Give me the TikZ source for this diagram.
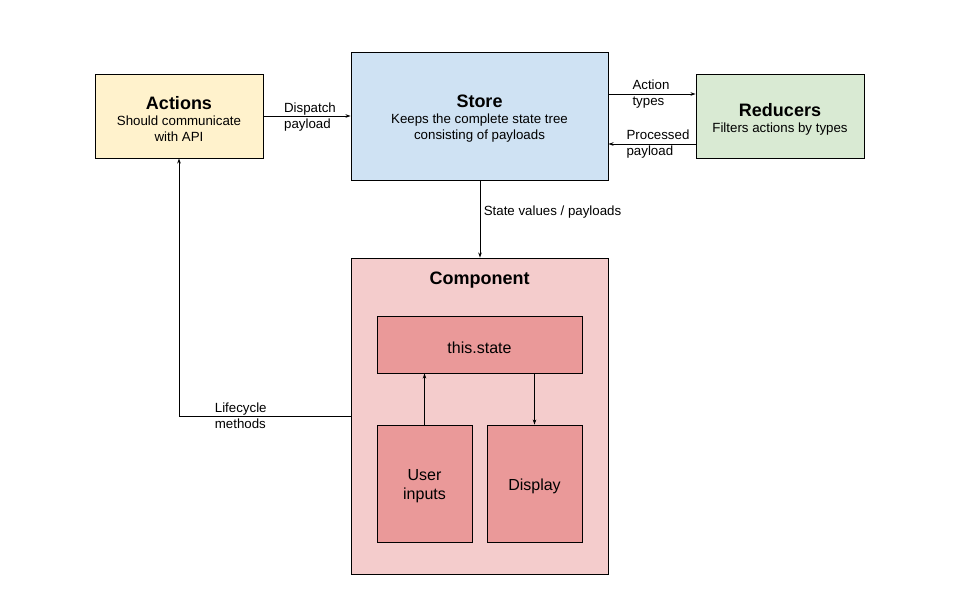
\documentclass[tikz,border=0pt]{standalone}
\usepackage{fontspec}
\setmainfont{Liberation Sans}
\usetikzlibrary{arrows.meta,positioning}

\definecolor{actfill}{HTML}{FFF2CC}
\definecolor{storefill}{HTML}{CFE2F3}
\definecolor{redfill}{HTML}{D9EAD3}
\definecolor{compfill}{HTML}{F4CCCC}
\definecolor{partfill}{HTML}{EA9999}

\begin{document}
\begin{tikzpicture}[x=1pt,y=-1pt,>={Stealth[length=5pt,width=3.5pt]},
    box/.style={draw,line width=0.9pt,inner sep=0pt},
    boxtext/.style={label={[align=center,yshift=-3pt,font=\fontsize{13.3}{16}\selectfont]center:{#1}}},
    parttext/.style={label={[align=center,yshift=-3pt,font=\fontsize{16}{19}\selectfont]center:{#1}}},
    flow/.style={->,line width=0.9pt},
    lbl/.style={align=left,font=\fontsize{13.3}{16}\selectfont}]
    \useasboundingbox (0,0) rectangle (960,600);
    \newcommand{\ttl}[1]{{\fontsize{18}{22}\selectfont\bfseries #1}}

    \node[box,fill=actfill,minimum width=168pt,minimum height=84pt,
        boxtext={\ttl{Actions}\\Should communicate\\with API}] (Actions) at (179,116) {};
    \node[box,fill=storefill,minimum width=257pt,minimum height=128pt,
        boxtext={\ttl{Store}\\Keeps the complete state tree\\consisting of payloads}] (Store) at (479.5,116) {};
    \node[box,fill=redfill,minimum width=168pt,minimum height=84pt,
        boxtext={\ttl{Reducers}\\Filters actions by types}] (Reducers) at (780,116) {};
    \node[box,fill=compfill,minimum width=257pt,minimum height=316pt,
        label={[anchor=north,yshift=-11pt,font=\fontsize{18}{22}\selectfont\bfseries]north:Component}] (Component) at (479.5,416) {};
    \node[box,fill=partfill,minimum width=205pt,minimum height=57pt,parttext={this.state}] (State) at (479.5,344.5) {};
    \node[box,fill=partfill,minimum width=95pt,minimum height=117pt,parttext={User\\inputs}] (UserIn) at (424.5,483.5) {};
    \node[box,fill=partfill,minimum width=95pt,minimum height=117pt,parttext={Display}] (Display) at (534.5,483.5) {};

    \draw[flow] (Actions) -- node[lbl,xshift=3pt,yshift=-1pt] {Dispatch\\payload} (Store);
    \draw[flow] ([yshift=22pt]Store.east) -- node[lbl,xshift=-1pt] {Action\\types} ([yshift=22pt]Reducers.west);
    \draw[flow] ([yshift=-28pt]Reducers.west) -- node[lbl,xshift=6pt] {Processed\\payload} ([yshift=-28pt]Store.east);
    \draw[flow] ([xshift=0.5pt]Store.south) -- node[lbl,right,pos=0.41] {State values / payloads} ([xshift=0.5pt]Component.north);
    \draw[flow] (Component.west) -| node[lbl,pos=0.32] {Lifecycle\\methods} (Actions.south);
    \draw[flow] (UserIn.north) -- (UserIn.north |- State.south);
    \draw[flow] (Display.north |- State.south) -- (Display.north);
\end{tikzpicture}
\end{document}
